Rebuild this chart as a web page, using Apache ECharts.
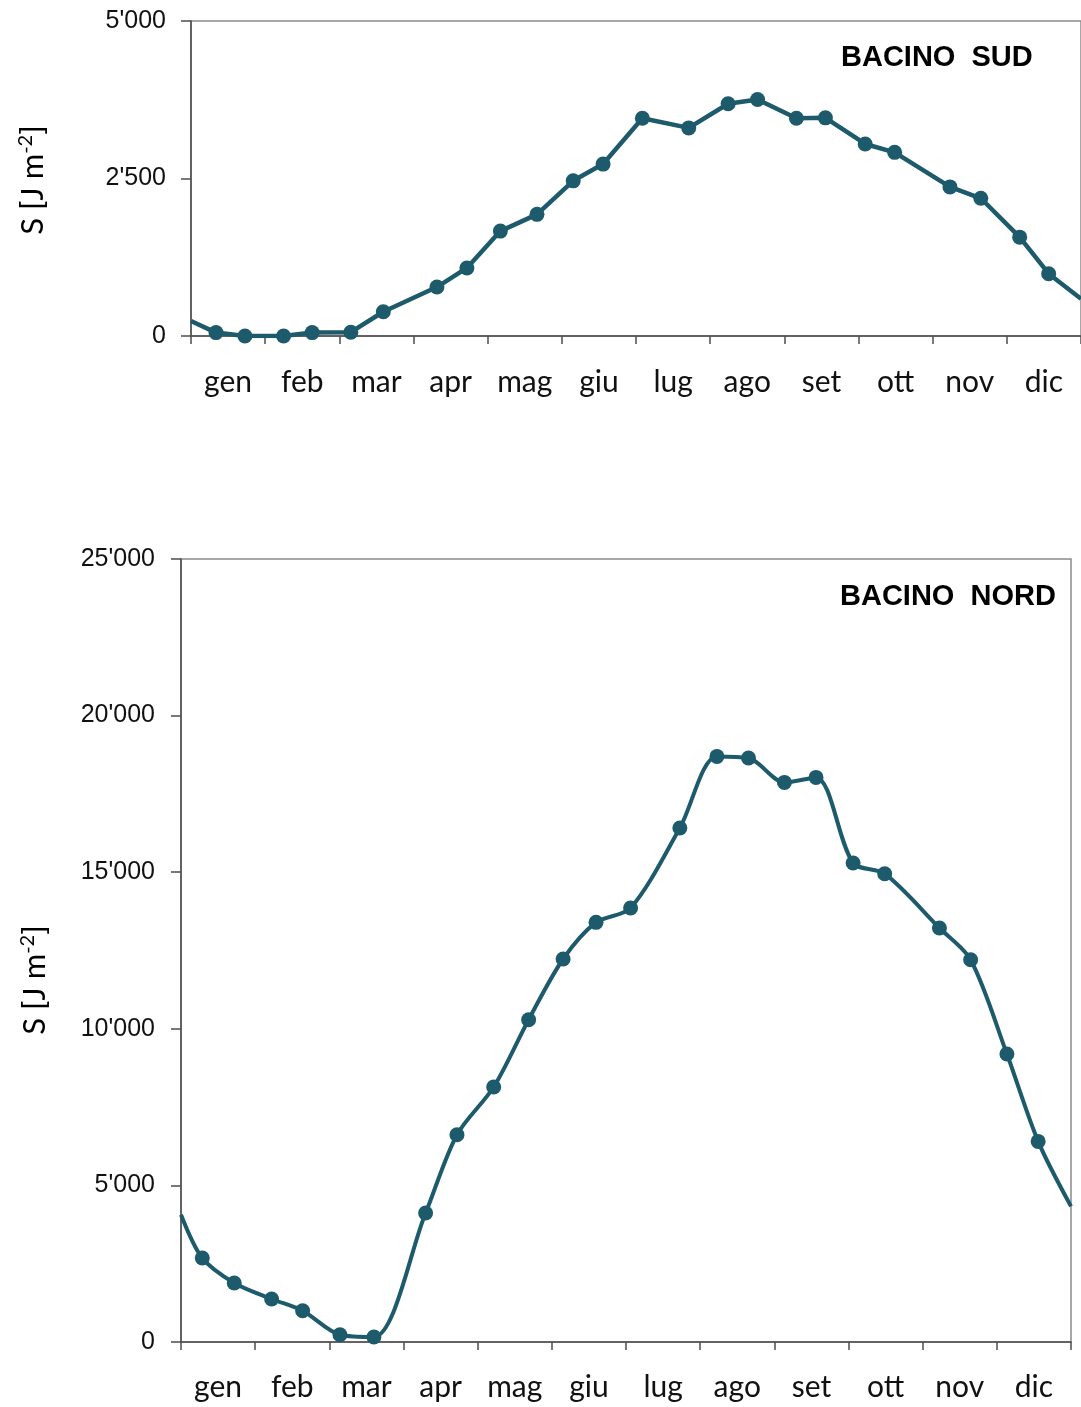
<!DOCTYPE html>
<html>
<head>
<meta charset="utf-8">
<script src="https://cdn.jsdelivr.net/npm/echarts@6/dist/echarts.min.js"></script>
<style>
html,body{margin:0;padding:0;background:#fff;}
#c{width:1081px;height:1407px;}
</style>
</head>
<body>
<div id="c"></div>
<script>
// ---- data ----
const months = ['gen','feb','mar','apr','mag','giu','lug','ago','set','ott','nov','dic'];

// position of each sample in months since 1 January (0..12); first/last are the line's ends at the frame
const sudMonth = [0, 0.337, 0.727, 1.248, 1.634, 2.155, 2.593, 3.316, 3.720, 4.171, 4.665, 5.153, 5.556,
  6.086, 6.711, 7.242, 7.639, 8.163, 8.554, 9.090, 9.487, 10.233, 10.649, 11.173, 11.564, 12];
const sudValue = [239, 54, 0, 0, 54, 60, 385, 777, 1080, 1665, 1931, 2463, 2729,
  3457, 3303, 3686, 3755, 3457, 3463, 3048, 2915, 2367, 2186, 1569, 989, 590];

const nordMonth = [0, 0.287, 0.718, 1.222, 1.640, 2.143, 2.601, 3.298, 3.721, 4.216, 4.687, 5.152, 5.596,
  6.062, 6.726, 7.226, 7.652, 8.136, 8.562, 9.062, 9.488, 10.226, 10.647, 11.136, 11.557, 12];
const nordValue = [4064, 2681, 1884, 1373, 999, 233, 160, 4119, 6619, 8142, 10291, 12229, 13398,
  13857, 16411, 18697, 18646, 17867, 18027, 15294, 14952, 13218, 12206, 9195, 6405, 4330];

const sudTicks = [0, 2500, 5000];
const nordTicks = [0, 5000, 10000, 15000, 20000, 25000];

const sudTitle = 'BACINO  SUD';
const nordTitle = 'BACINO  NORD';

// ---- styling ----
const LINE = '#1d5b6c';
const AXIS = '#4d4d4d';
const BORDER = '#8a8a8a';
const TXT = '#111';

function fmt(v) {
  return String(Math.round(v)).replace(/\B(?=(\d{3})+(?!\d))/g, "'");
}
function buildData(xs, ys) {
  return xs.map((x, i) => {
    const edge = (i === 0 || i === xs.length - 1);
    return edge ? { value: [x, ys[i]], symbolSize: 0 } : [x, ys[i]];
  });
}
function valueX(grid) {
  return {
    type: 'value', gridIndex: grid, min: 0, max: 12, interval: 1, position: 'bottom',
    axisLine: { show: true, onZero: false, lineStyle: { color: AXIS, width: 1.5 } },
    axisTick: { show: true, inside: false, length: 8, lineStyle: { color: AXIS, width: 1.5 } },
    axisLabel: { show: false }, splitLine: { show: false }
  };
}
function catX(grid, margin) {
  return {
    type: 'category', gridIndex: grid, data: months, boundaryGap: true, position: 'bottom',
    axisLine: { show: false }, axisTick: { show: false }, splitLine: { show: false },
    axisLabel: { interval: 0, margin: margin, fontFamily: 'Lato', fontSize: 30, color: TXT }
  };
}
function valueY(grid, ticks, margin) {
  return {
    type: 'value', gridIndex: grid, min: ticks[0], max: ticks[ticks.length - 1],
    interval: ticks[1] - ticks[0],
    axisLine: { show: true, lineStyle: { color: AXIS, width: 1.5 } },
    axisTick: { show: true, inside: false, length: 10, lineStyle: { color: AXIS, width: 1.5 } },
    axisLabel: { margin: margin, fontFamily: 'Liberation Sans', fontSize: 25, color: TXT, formatter: fmt },
    splitLine: { show: false }
  };
}
const yTitleRich = {
  a: { fontFamily: 'Lato', fontSize: 31, color: TXT },
  s: { fontFamily: 'Lato', fontSize: 20, color: TXT, verticalAlign: 'top', padding: [0, 0, 15, 0] }
};
function yTitle(x, y) {
  return {
    type: 'text', x: x, y: y, rotation: Math.PI / 2,
    style: {
      text: '{a|S [J m}{s|-2}{a|]}', rich: yTitleRich,
      align: 'center', verticalAlign: 'middle', textAlign: 'center', textVerticalAlign: 'middle'
    }
  };
}
function boxTitle(x, y, t) {
  return {
    type: 'text', x: x, y: y,
    style: {
      text: t, fontFamily: 'Liberation Sans', fontWeight: 'bold', fontSize: 29, fill: '#000',
      align: 'left', verticalAlign: 'middle', textAlign: 'left', textVerticalAlign: 'middle'
    }
  };
}

const chart = echarts.init(document.getElementById('c'), null, { renderer: 'canvas' });
chart.setOption({
  backgroundColor: '#fff',
  animation: false,
  grid: [
    { left: 191, top: 21, width: 891, height: 315, show: true, borderColor: BORDER, borderWidth: 1.5, backgroundColor: 'transparent' },
    { left: 181, top: 559, width: 890, height: 783, show: true, borderColor: BORDER, borderWidth: 1.5, backgroundColor: 'transparent' }
  ],
  xAxis: [valueX(0), catX(0, 31), valueX(1), catX(1, 30)],
  yAxis: [valueY(0, sudTicks, 25), valueY(1, nordTicks, 26)],
  series: [
    {
      type: 'line', xAxisIndex: 0, yAxisIndex: 0, data: buildData(sudMonth, sudValue),
      smooth: false, symbol: 'circle', symbolSize: 15,
      lineStyle: { color: LINE, width: 4.5 }, itemStyle: { color: LINE }, clip: true
    },
    {
      type: 'line', xAxisIndex: 2, yAxisIndex: 1, data: buildData(nordMonth, nordValue),
      smooth: 0.3, symbol: 'circle', symbolSize: 15,
      lineStyle: { color: LINE, width: 4 }, itemStyle: { color: LINE }, clip: true
    }
  ],
  graphic: [
    yTitle(33, 180),
    yTitle(35, 980),
    boxTitle(841, 58, sudTitle),
    boxTitle(840, 597, nordTitle)
  ]
});
</script>
</body>
</html>
